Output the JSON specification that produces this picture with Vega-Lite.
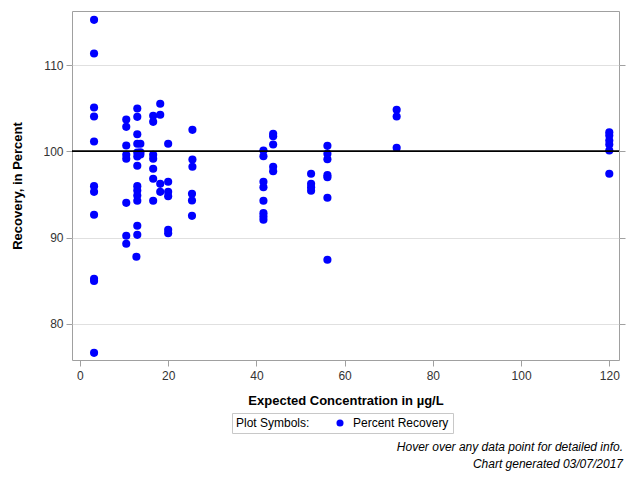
{
  "$schema": "https://vega.github.io/schema/vega-lite/v6.json",
  "width": 547,
  "height": 349,
  "autosize": {"type": "none"},
  "padding": {"left": 72, "top": 11, "right": 21, "bottom": 120},
  "background": "white",
  "config": {
    "font": "Liberation Sans",
    "view": {"stroke": "#a0a0a0", "strokeWidth": 1},
    "axis": {"domain": false, "labelFont": "Liberation Sans", "titleFont": "Liberation Sans"}
  },
  "title": {
    "text": ["Hover over any data point for detailed info.", "Chart generated 03/07/2017"],
    "orient": "bottom",
    "anchor": "end",
    "frame": "group",
    "font": "Liberation Sans",
    "fontSize": 12,
    "fontStyle": "italic",
    "fontWeight": "normal",
    "color": "black",
    "lineHeight": 17,
    "offset": 8,
    "dx": 4
  },
  "data": {
    "values": [
      {"conc": 3.2, "pct": 115.31}, {"conc": 3.2, "pct": 111.4}, {"conc": 3.2, "pct": 105.12}, {"conc": 3.2, "pct": 104.07},
      {"conc": 3.2, "pct": 101.16}, {"conc": 3.2, "pct": 95.97}, {"conc": 3.2, "pct": 95.31}, {"conc": 3.2, "pct": 92.64},
      {"conc": 3.2, "pct": 85.2}, {"conc": 3.2, "pct": 84.94}, {"conc": 3.2, "pct": 76.59},
      {"conc": 10.5, "pct": 103.72}, {"conc": 10.5, "pct": 102.87}, {"conc": 10.5, "pct": 100.7}, {"conc": 10.5, "pct": 99.62},
      {"conc": 10.5, "pct": 99.15}, {"conc": 10.5, "pct": 94.03}, {"conc": 10.5, "pct": 90.2}, {"conc": 10.5, "pct": 89.27},
      {"conc": 13.0, "pct": 105.0}, {"conc": 13.0, "pct": 104.03}, {"conc": 13.0, "pct": 102.01}, {"conc": 13.0, "pct": 100.9},
      {"conc": 13.0, "pct": 99.88}, {"conc": 13.0, "pct": 99.42}, {"conc": 13.0, "pct": 98.34}, {"conc": 13.0, "pct": 95.97},
      {"conc": 13.0, "pct": 95.47}, {"conc": 13.0, "pct": 94.88}, {"conc": 13.0, "pct": 94.27}, {"conc": 13.0, "pct": 91.36},
      {"conc": 13.0, "pct": 90.31}, {"conc": 12.8, "pct": 87.76},
      {"conc": 13.7, "pct": 100.9}, {"conc": 13.7, "pct": 99.65}, {"conc": 13.7, "pct": 99.9},
      {"conc": 16.6, "pct": 104.15}, {"conc": 16.6, "pct": 103.45}, {"conc": 16.6, "pct": 99.62}, {"conc": 16.6, "pct": 99.15},
      {"conc": 16.6, "pct": 97.99}, {"conc": 16.6, "pct": 96.83}, {"conc": 16.6, "pct": 94.27},
      {"conc": 18.2, "pct": 105.55}, {"conc": 18.2, "pct": 104.27}, {"conc": 18.2, "pct": 96.24}, {"conc": 18.2, "pct": 95.31},
      {"conc": 20.0, "pct": 100.9}, {"conc": 20.0, "pct": 96.48}, {"conc": 20.0, "pct": 95.31}, {"conc": 20.0, "pct": 94.8},
      {"conc": 20.0, "pct": 90.9}, {"conc": 20.0, "pct": 90.5},
      {"conc": 25.5, "pct": 102.52}, {"conc": 25.5, "pct": 99.07}, {"conc": 25.5, "pct": 98.22}, {"conc": 25.4, "pct": 95.08},
      {"conc": 25.4, "pct": 94.3}, {"conc": 25.4, "pct": 92.52},
      {"conc": 41.6, "pct": 100.12}, {"conc": 41.6, "pct": 99.45}, {"conc": 41.6, "pct": 96.48}, {"conc": 41.6, "pct": 95.85},
      {"conc": 41.6, "pct": 94.27}, {"conc": 41.6, "pct": 92.83}, {"conc": 41.6, "pct": 92.44}, {"conc": 41.6, "pct": 92.06},
      {"conc": 43.8, "pct": 102.06}, {"conc": 43.8, "pct": 101.78}, {"conc": 43.8, "pct": 100.81}, {"conc": 43.8, "pct": 98.22},
      {"conc": 43.8, "pct": 97.71},
      {"conc": 52.4, "pct": 97.41}, {"conc": 52.4, "pct": 96.24}, {"conc": 52.4, "pct": 95.85}, {"conc": 52.4, "pct": 95.43},
      {"conc": 56.1, "pct": 100.66}, {"conc": 56.1, "pct": 99.73}, {"conc": 56.1, "pct": 99.1}, {"conc": 56.1, "pct": 97.25},
      {"conc": 56.1, "pct": 97.0}, {"conc": 56.1, "pct": 94.62}, {"conc": 56.1, "pct": 87.41},
      {"conc": 71.8, "pct": 104.85}, {"conc": 71.8, "pct": 104.07}, {"conc": 71.8, "pct": 100.43},
      {"conc": 120, "pct": 102.24}, {"conc": 120, "pct": 101.86}, {"conc": 120, "pct": 101.28}, {"conc": 120, "pct": 100.81},
      {"conc": 120, "pct": 100.12}, {"conc": 120, "pct": 97.41}
    ]
  },
  "layer": [
    {
      "mark": {"type": "point", "filled": true, "shape": "circle", "size": 66, "opacity": 1},
      "encoding": {
        "x": {
          "field": "conc", "type": "quantitative",
          "scale": {"domain": [-1.8, 122.2], "nice": false, "zero": false},
          "axis": {
            "title": "Expected Concentration in µg/L",
            "values": [0, 20, 40, 60, 80, 100, 120],
            "grid": false,
            "tickColor": "#a0a0a0", "tickSize": 6,
            "labelFontSize": 12, "labelColor": "#333333", "labelPadding": 4,
            "titleFontSize": 13, "titleFontWeight": "bold", "titleColor": "black", "titlePadding": 13
          }
        },
        "y": {
          "field": "pct", "type": "quantitative",
          "scale": {"domain": [75.756, 116.337], "nice": false, "zero": false},
          "axis": {
            "orient": "left",
            "title": "Recovery, in Percent",
            "values": [80, 90, 100, 110],
            "grid": true, "gridColor": "#e0e0e0",
            "tickColor": "#a0a0a0", "tickSize": 6,
            "labelFontSize": 12, "labelColor": "#333333", "labelPadding": 3,
            "titleFontSize": 13, "titleFontWeight": "bold", "titleColor": "black", "titlePadding": 18
          }
        },
        "color": {
          "datum": "Percent Recovery",
          "type": "nominal",
          "scale": {"range": ["#0000ff"]},
          "legend": {
            "title": "Plot Symbols:",
            "orient": "none",
            "legendX": 160,
            "legendY": 402,
            "direction": "horizontal",
            "titleOrient": "left",
            "titleFontSize": 12,
            "titleFontWeight": "normal",
            "titleColor": "black",
            "titlePadding": 24,
            "labelFontSize": 12,
            "labelColor": "black",
            "labelOffset": 7,
            "symbolSize": 50,
            "symbolType": "circle",
            "strokeColor": "#c8c8c8",
            "padding": 4,
            "fillColor": "white"
          }
        }
      }
    },
    {
      "mark": {"type": "rule", "color": "black", "strokeWidth": 1},
      "encoding": {"y": {"datum": 100, "type": "quantitative", "axis": null}}
    },
    {
      "mark": {"type": "rule", "opacity": 0},
      "encoding": {
        "y": {
          "datum": 100, "type": "quantitative",
          "axis": {
            "orient": "right", "values": [80, 90, 100, 110], "labels": false, "grid": false,
            "title": null, "tickColor": "#a0a0a0", "tickSize": 6
          }
        }
      }
    }
  ],
  "resolve": {"axis": {"y": "independent"}}
}
